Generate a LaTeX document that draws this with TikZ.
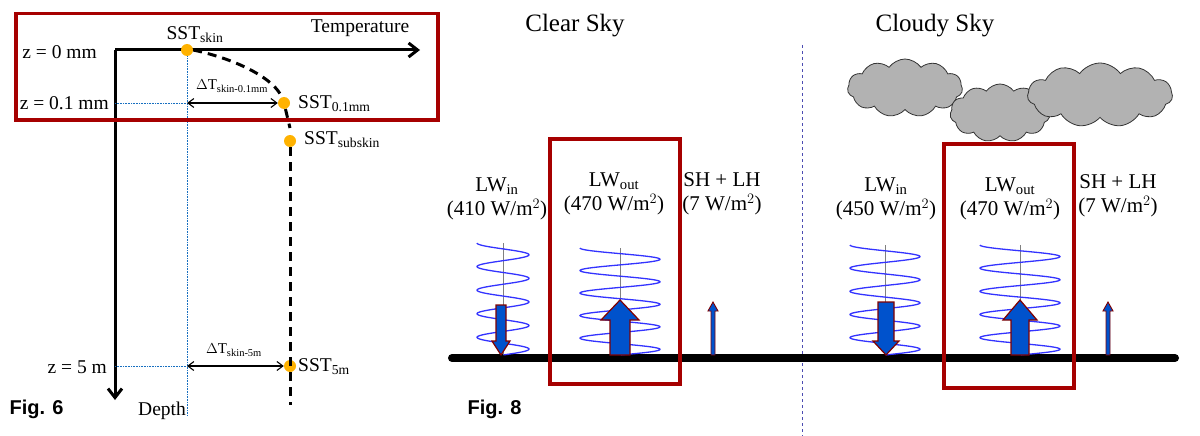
\documentclass[tikz,border=0pt]{standalone}
\usepackage{fontspec}
\setmainfont{Liberation Serif}
\newfontfamily\figf{Liberation Sans}
\usetikzlibrary{arrows.meta,shapes.symbols}
\newcommand{\sbx}[1]{\textsubscript{#1}}
\begin{document}
\begin{tikzpicture}[x=1pt,y=-1pt,
  lbl/.style={font=\fontsize{19.5}{22}\selectfont,inner sep=1pt},
  big/.style={font=\fontsize{21}{24}\selectfont,inner sep=1pt,align=center},
  ttl/.style={font=\fontsize{25}{28}\selectfont},
  fig/.style={font=\figf\bfseries\fontsize{20}{22}\selectfont},
  dot/.style={circle,fill=orange!60!yellow,minimum size=12pt,inner sep=0},
  redbox/.style={draw=red!65!black,line width=3.5pt},
  guide/.style={draw=cyan!50!blue,densely dotted,line width=0.6pt},
  fat/.style={draw=red!50!black,fill=blue!60!cyan!80!black,line width=1.2pt},
  spring/.style={draw=blue!80!white,line width=1.3pt},
  cl/.style={cloud,cloud puffs=11,cloud puff arc=110,aspect=2,fill=gray!60,draw=gray!40!black,line width=0.8pt,inner sep=0}]
\useasboundingbox (0,0) rectangle (1200,436);
% ---------- Fig 6
\coordinate (o) at (115,50);
\coordinate (tx) at (420,50);
\coordinate (dp) at (115,400);
\draw[line width=3pt,-{Straight Barb[length=9pt,width=14pt]}] (o)--(tx);
\draw[line width=3pt,-{Straight Barb[length=9pt,width=14pt]}] (o)--(dp);
\node[lbl] at (360,28) {Temperature};
\node[lbl,anchor=west] at (137,411) {Depth};
\node[lbl,anchor=east] (z0) at (98,52) {z = 0 mm};
\node[lbl,anchor=east] (z1) at (110,103) {z = 0.1 mm};
\node[lbl,anchor=east] (z5) at (108,367) {z = 5 m};
\coordinate (g0) at (187,50);\coordinate (g1) at (187,415);
\draw[guide] (g0)--(g1);
\coordinate (h1) at (115,103);\coordinate (h1e) at (187,103);
\draw[guide] (h1)--(h1e);
\coordinate (h5) at (115,366);\coordinate (h5e) at (187,366);
\draw[guide] (h5)--(h5e);
\node[dot] (sk) at (187,50) {};
\node[dot] (s01) at (284,103) {};
\node[dot] (ssub) at (290,141) {};
\node[dot] (s5) at (290,366) {};
\draw[line width=3pt,dash pattern=on 9pt off 6pt] (sk.east) .. controls (240,60) and (275,80) .. (s01) -- (290,128);
\coordinate (bot) at (290,405);
\draw[line width=3pt,dash pattern=on 9pt off 6pt] (ssub.south) -- (bot);
\node[lbl,anchor=south] at (195,44) {SST\sbx{skin}};
\node[lbl,anchor=west] at (297,104) {SST\sbx{0.1mm}};
\node[lbl,anchor=west] at (303,140) {SST\sbx{subskin}};
\node[lbl,anchor=west] at (297,367) {SST\sbx{5m}};
\draw[line width=1.1pt,{Straight Barb[length=6pt,width=9pt]}-{Straight Barb[length=6pt,width=9pt]}] (h1e)--(s01.west);
\node[font=\fontsize{15}{17}\selectfont] at (232,86) {$\Delta$T\sbx{skin-0.1mm}};
\draw[line width=1.1pt,{Straight Barb[length=6pt,width=9pt]}-{Straight Barb[length=6pt,width=9pt]}] (h5e)--(s5.west);
\node[font=\fontsize{15}{17}\selectfont] at (234,350) {$\Delta$T\sbx{skin-5m}};
\node[redbox,minimum width=422pt,minimum height=106pt,anchor=north west] (rb0) at (14,12) {};
\node[fig,anchor=west] at (6,409) {Fig. 6};
% ---------- Fig 8
\node[ttl] at (575,26) {Clear Sky};
\node[ttl] at (935,26) {Cloudy Sky};
\coordinate (dv0) at (802,45);\coordinate (dv1) at (802,436);
\draw[draw=blue!40!gray,dashed,line width=0.6pt] (dv0)--(dv1);
% clouds
\node[cl,minimum width=115pt,minimum height=58pt] (c1) at (905,88) {};
\node[cl,minimum width=100pt,minimum height=58pt] (c2) at (1000,113) {};
\node[cl,minimum width=145pt,minimum height=64pt] (c3) at (1100,95) {};
% ground
\coordinate (gl) at (452,358);\coordinate (gr) at (1175,358);
\draw[line width=8pt,line cap=round] (gl)--(gr);
% springs
\foreach \c/\w/\t/\name in {503/26/243/a,620/40/248/b,885/35/245/c,1020/40/245/d}{
  \coordinate (\name t) at (\c,\t);\coordinate (\name b) at (\c,355);
  \draw[gray,line width=0.4pt] (\name t)--(\name b);
  \draw[spring,domain=0:1,samples=240,smooth,variable=\u] plot ({\c+\w*sin(\u*360*4.75-90)},{\t+(355-\t)*\u});
}
% arrows
\foreach \x/\a/\b/\hw/\sw in {501/305/355/9/5,886/302/355/13/8}{
  \draw[fat] (\x-\sw,\a)--(\x+\sw,\a)--(\x+\sw,\b-14)--(\x+\hw,\b-14)--(\x,\b)--(\x-\hw,\b-14)--(\x-\sw,\b-14)--cycle;
}
\foreach \x/\a/\b/\hw/\sw in {620/300/355/19/10,1020/300/355/17/9}{
  \draw[fat] (\x-\sw,\b)--(\x+\sw,\b)--(\x+\sw,\a+20)--(\x+\hw,\a+20)--(\x,\a)--(\x-\hw,\a+20)--(\x-\sw,\a+20)--cycle;
}
\foreach \x in {713,1108}{
  \draw[fat,line width=0.9pt] (\x-2,355)--(\x+2,355)--(\x+2,311)--(\x+5,311)--(\x,302)--(\x-5,311)--(\x-2,311)--cycle;
}
% labels
\node[big] at (497,199) {LW\sbx{in}\\(410 W/m$^2$)};
\node[big] at (614,194) {LW\sbx{out}\\(470 W/m$^2$)};
\node[big] at (722,194) {SH + LH\\(7 W/m$^2$)};
\node[big] at (886,199) {LW\sbx{in}\\(450 W/m$^2$)};
\node[big] at (1010,199) {LW\sbx{out}\\(470 W/m$^2$)};
\node[big] at (1118,196) {SH + LH\\(7 W/m$^2$)};
\node[redbox,minimum width=130pt,minimum height=245pt,anchor=north west] (rb1) at (548,137) {};
\node[redbox,minimum width=130pt,minimum height=244pt,anchor=north west] (rb2) at (942,142) {};
\node[fig,anchor=west] at (464,409) {Fig. 8};
\end{tikzpicture}
\end{document}
